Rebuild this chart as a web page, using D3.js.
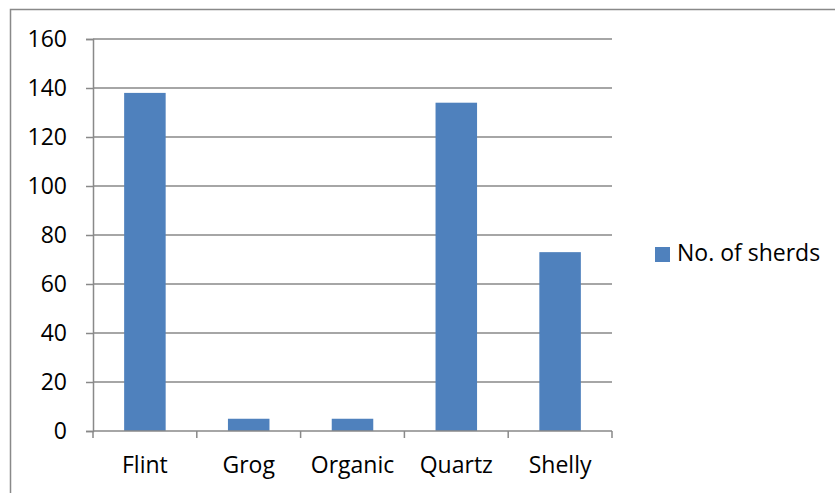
<!DOCTYPE html>
<html>
<head>
<meta charset="utf-8">
<script src="https://cdn.jsdelivr.net/npm/d3@7"></script>
<style>
  html, body { margin: 0; padding: 0; background: #fff; }
  svg { display: block; }
  text { font-family: "Open Sans", Lato, sans-serif; fill: #000; }
</style>
</head>
<body>
<svg id="chart" width="835" height="493"></svg>
<script>
// Sherd counts by fabric type
const categories = ["Flint", "Grog", "Organic", "Quartz", "Shelly"];
const sherds = [138, 5, 5, 134, 73];
const yTicks = [0, 20, 40, 60, 80, 100, 120, 140, 160];
const seriesName = "No. of sherds";

const svg = d3.select("#chart");
const plot = { left: 93, right: 612, top: 39, bottom: 431 };
const gridColor = "#898989";
const barColor = "#4F81BD";
const fontSize = 23;

// Outer chart frame (runs off the right and bottom edges)
svg.append("rect")
  .attr("x", 10.5).attr("y", 9.5)
  .attr("width", 840).attr("height", 500)
  .attr("fill", "none").attr("stroke", gridColor).attr("stroke-width", 1.5);

const x = d3.scaleBand()
  .domain(categories)
  .range([plot.left, plot.right])
  .paddingInner(0.6).paddingOuter(0.3);

const y = d3.scaleLinear().domain([0, 160]).range([plot.bottom, plot.top]);

// Horizontal gridlines
svg.append("g").selectAll("line")
  .data(yTicks.filter(d => d > 0))
  .join("line")
  .attr("x1", plot.left).attr("x2", plot.right)
  .attr("y1", d => y(d)).attr("y2", d => y(d))
  .attr("stroke", gridColor).attr("stroke-width", 1.5);

// Bars
svg.append("g").selectAll("rect")
  .data(categories)
  .join("rect")
  .attr("x", d => x(d))
  .attr("width", x.bandwidth())
  .attr("y", (d, i) => y(sherds[i]))
  .attr("height", (d, i) => y(0) - y(sherds[i]))
  .attr("fill", barColor);

// Y axis
const yAxis = svg.append("g")
  .attr("transform", `translate(${plot.left},0)`)
  .call(d3.axisLeft(y).tickValues(yTicks).tickSize(7).tickPadding(19));
yAxis.select(".domain").attr("stroke", gridColor).attr("stroke-width", 1.5);
yAxis.selectAll(".tick line").attr("stroke", gridColor).attr("stroke-width", 1.5);
yAxis.selectAll(".tick text")
  .attr("font-size", fontSize).attr("fill", "#000")
  .style("font-family", "'Open Sans', Lato, sans-serif");

// X axis with ticks at category boundaries
const step = x.step();
const boundaries = d3.range(categories.length + 1).map(i => plot.left + i * step);
const xg = svg.append("g");
xg.append("line")
  .attr("x1", plot.left).attr("x2", plot.right)
  .attr("y1", plot.bottom).attr("y2", plot.bottom)
  .attr("stroke", gridColor).attr("stroke-width", 1.5);
xg.selectAll("line.tick")
  .data(boundaries)
  .join("line").attr("class", "tick")
  .attr("x1", d => d).attr("x2", d => d)
  .attr("y1", plot.bottom).attr("y2", plot.bottom + 7)
  .attr("stroke", gridColor).attr("stroke-width", 1.5);
xg.selectAll("text")
  .data(categories)
  .join("text")
  .attr("x", d => x(d) + x.bandwidth() / 2)
  .attr("y", 473)
  .attr("text-anchor", "middle")
  .attr("font-size", fontSize)
  .text(d => d);

// Legend
const legend = svg.append("g");
legend.append("rect")
  .attr("x", 655).attr("y", 247).attr("width", 15).attr("height", 15)
  .attr("fill", barColor);
legend.append("text")
  .attr("x", 677).attr("y", 261)
  .attr("font-size", fontSize)
  .text(seriesName);
</script>
</body>
</html>
